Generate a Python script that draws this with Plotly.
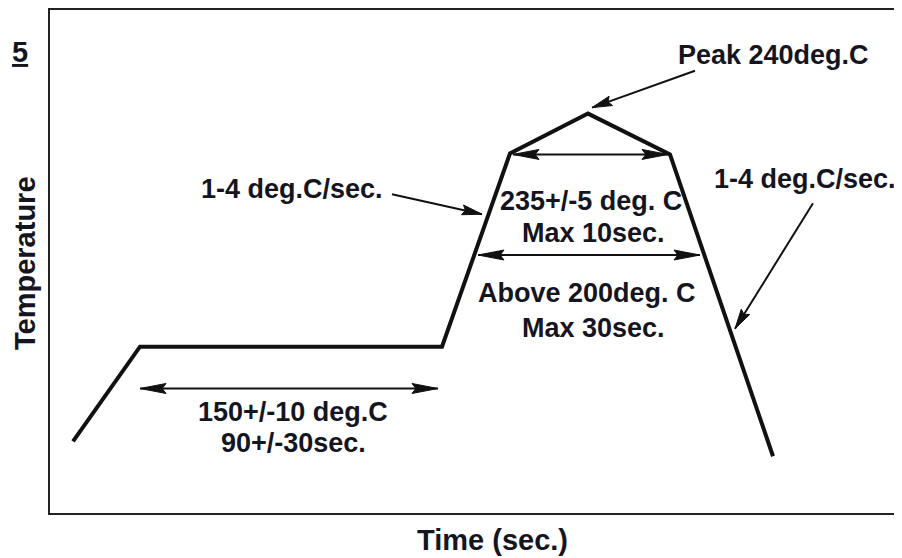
import math
import plotly.graph_objects as go

# Schematic reflow profile (arbitrary time / temperature units)
profile_time = [23, 90, 392, 460, 538, 620, 723]
profile_temp = [72, 167, 167, 361, 401, 360, 57]

# Double-headed span arrows (horizontal)
span_level = [360, 259, 125]
span_start = [463, 428, 90]
span_end = [618, 650, 388]

# Pointer arrows: tail -> tip
pointer_tail_x = [645, 342, 763]
pointer_tail_y = [444, 320, 311]
pointer_tip_x = [542, 432, 685]
pointer_tip_y = [407, 300, 185]

# Text labels
label_text = ["Peak 240deg.C", "1-4 deg.C/sec.", "1-4 deg.C/sec.",
              "235+/-5 deg. C", "Max 10sec.",
              "Above 200deg. C", "Max 30sec.",
              "150+/-10 deg.C", "90+/-30sec."]
label_x = [723, 242, 755, 541, 543, 537, 543, 243, 243]
label_y = [460, 325, 335, 313, 281, 221, 186, 101, 70]

x_title = "Time (sec.)"
y_title = "Temperature"
corner_text = "5"

X_RANGE = [0, 848]
Y_RANGE = [0, 505]

INK = "#111111"
TXT = "#15151f"
FONT = "Liberation Sans, Arial, sans-serif"

fig = go.Figure()
fig.add_trace(go.Scatter(x=profile_time, y=profile_temp, mode="lines",
                         line=dict(color=INK, width=4), hoverinfo="skip",
                         showlegend=False))

shapes = []


def head(tip_x, tip_y, tail_x, tail_y, length, half):
    dx, dy = tip_x - tail_x, tip_y - tail_y
    d = math.hypot(dx, dy)
    ux, uy = dx / d, dy / d
    nx, ny = -uy, ux
    bx, by = tip_x - ux * length, tip_y - uy * length
    path = (f"M {tip_x},{tip_y} L {bx + nx * half},{by + ny * half} "
            f"L {bx + ux * length * 0.15},{by + uy * length * 0.15} "
            f"L {bx - nx * half},{by - ny * half} Z")
    shapes.append(dict(type="path", path=path, xref="x", yref="y",
                       fillcolor=INK, line=dict(color=INK, width=1)))


for lv, a, b in zip(span_level, span_start, span_end):
    shapes.append(dict(type="line", xref="x", yref="y", x0=a, x1=b, y0=lv, y1=lv,
                       line=dict(color=INK, width=2)))
    head(a, lv, b, lv, 26, 5)
    head(b, lv, a, lv, 26, 5)

for tx, ty, px, py in zip(pointer_tail_x, pointer_tail_y, pointer_tip_x, pointer_tip_y):
    shapes.append(dict(type="line", xref="x", yref="y", x0=tx, y0=ty, x1=px, y1=py,
                       line=dict(color=INK, width=2)))
    head(px, py, tx, ty, 20, 5)

annotations = []
for t, x, y in zip(label_text, label_x, label_y):
    annotations.append(dict(text=t, x=x, y=y, xref="x", yref="y", showarrow=False,
                            xanchor="center", yanchor="middle",
                            font=dict(family=FONT, size=27, color=TXT, weight="bold")))

annotations.append(dict(text=x_title, x=442 / 848, y=0, xref="paper", yref="paper",
                        showarrow=False, xanchor="center", yanchor="middle", yshift=-27,
                        font=dict(family=FONT, size=29, color=TXT, weight="bold")))
annotations.append(dict(text=y_title, x=0, y=251 / 505, xref="paper", yref="paper",
                        showarrow=False, textangle=-90, xanchor="center",
                        yanchor="middle", xshift=-25,
                        font=dict(family=FONT, size=29, color=TXT, weight="bold")))
annotations.append(dict(text="<u>" + corner_text + "</u>", x=0, y=1 - 42 / 505,
                        xref="paper", yref="paper",
                        showarrow=False, xanchor="left", yanchor="middle", xshift=-40,
                        font=dict(family=FONT, size=29, color=TXT, weight="bold")))

fig.update_layout(
    width=902, height=558,
    margin=dict(l=42, r=12, t=0, b=53, pad=0),
    paper_bgcolor="white", plot_bgcolor="white",
    shapes=shapes, annotations=annotations,
    xaxis=dict(range=X_RANGE, showgrid=False, zeroline=False, showticklabels=False,
               ticks="", showline=True, mirror=True, linecolor="#222222", linewidth=2,
               fixedrange=True),
    yaxis=dict(range=Y_RANGE, showgrid=False, zeroline=False, showticklabels=False,
               ticks="", showline=True, mirror=True, linecolor="#222222", linewidth=2,
               fixedrange=True),
)

fig.write_html("out.html")
